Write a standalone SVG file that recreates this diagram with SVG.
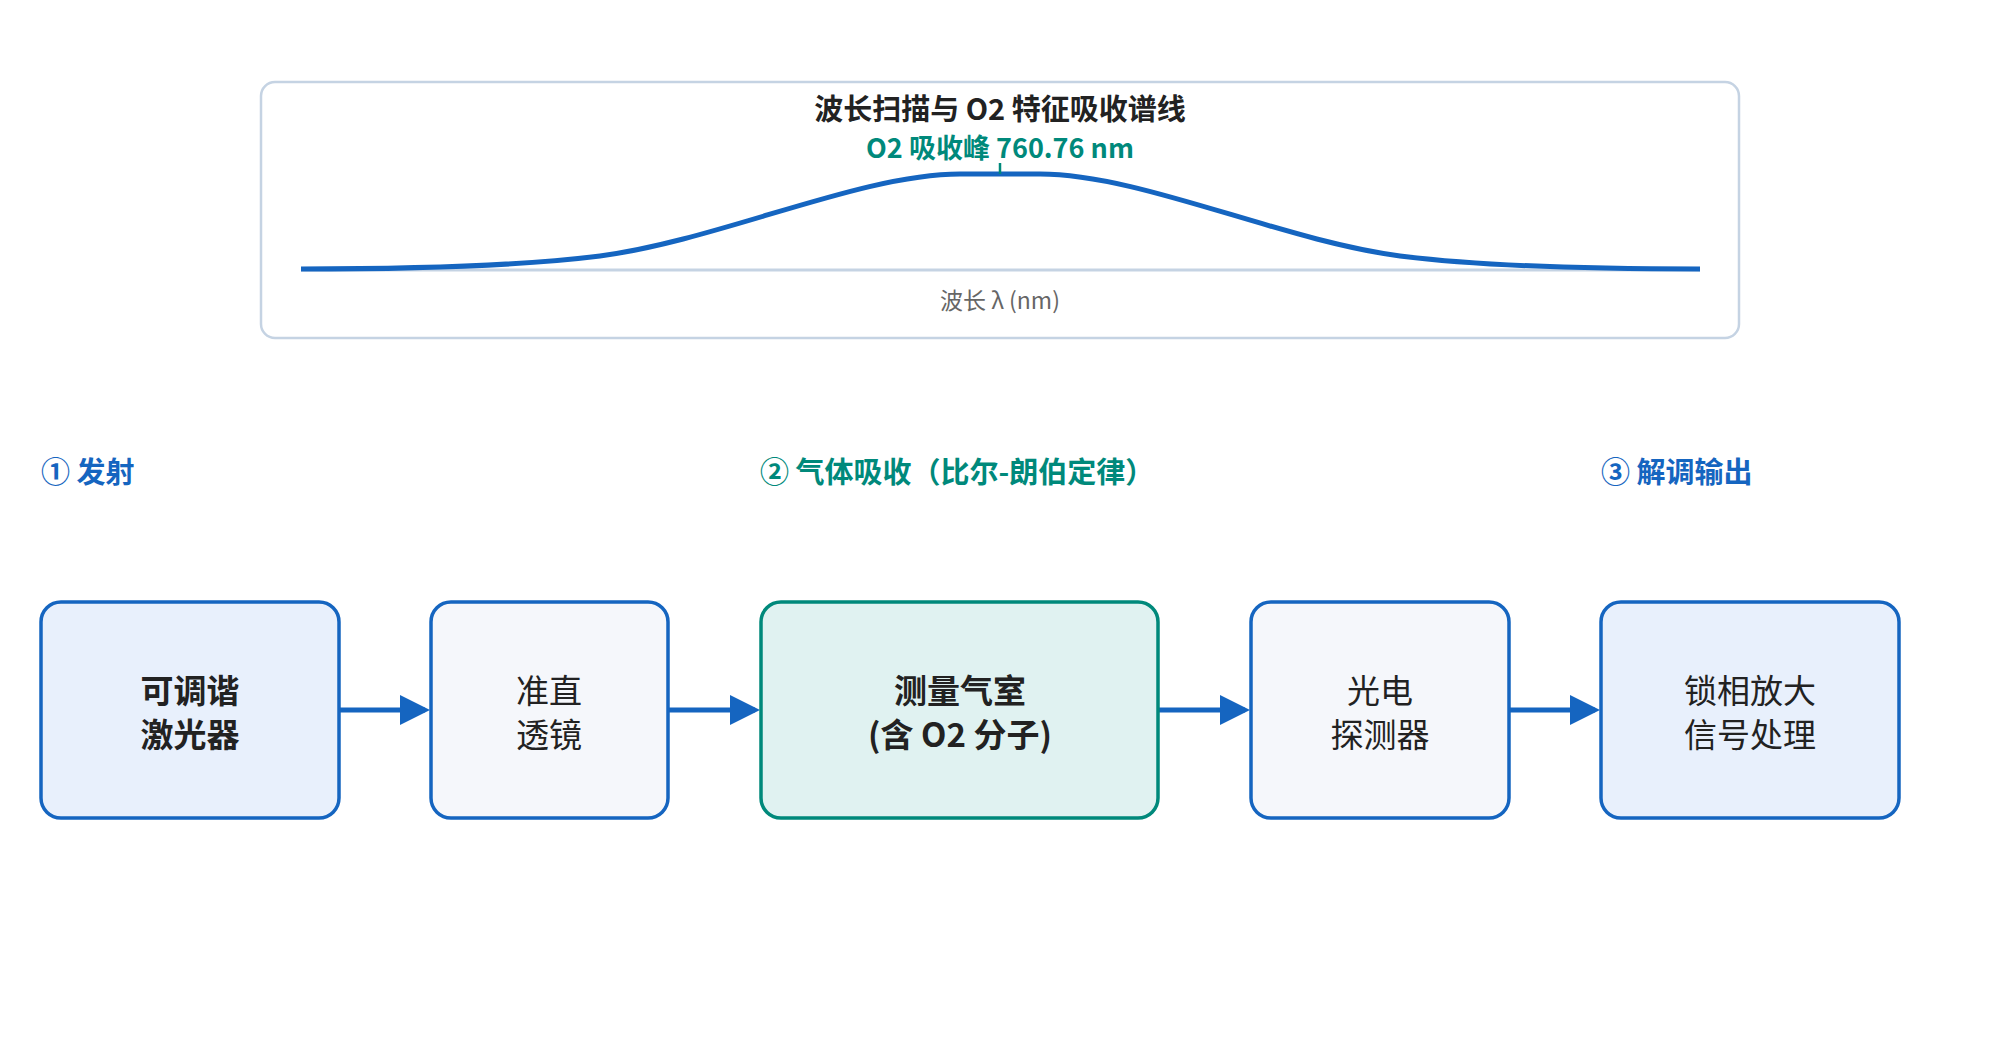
<svg xmlns="http://www.w3.org/2000/svg" width="2000" height="1040" viewBox="0 0 2000 1040">
<style>
text{font-family:"Noto Sans CJK SC","Noto Sans",sans-serif;text-anchor:middle}
.box{stroke:#1565c0;stroke-width:3.5}
.lbl{font-size:33px;fill:#222}
.sec{font-size:29px;font-weight:bold;text-anchor:start}
.conn{stroke:#1565c0;stroke-width:5;fill:none;marker-end:url(#ah)}
</style>
<defs><marker id="ah" markerWidth="6" markerHeight="6" refX="5" refY="3" orient="auto"><path d="M0,0 L6,3 L0,6 Z" fill="#1565c0"/></marker></defs>
<rect width="2000" height="1040" fill="#fff"/>
<g id="spectrum">
<rect x="261" y="82" width="1478" height="256" rx="14" fill="#fff" stroke="#c5d3e3" stroke-width="2.5"/>
<text x="1000" y="120" font-size="29" font-weight="bold" fill="#222">波长扫描与 O2 特征吸收谱线</text>
<text x="1000" y="158" font-size="27" font-weight="bold" fill="#00897b">O2 吸收峰 760.76 nm</text>
<line x1="301" y1="270" x2="1700" y2="270" stroke="#c5d3e3" stroke-width="3"/>
<path d="M301,269 C420,269 520,266 600,256 C720,240 860,174 960,174 L1040,174 C1140,174 1280,240 1400,256 C1480,266 1580,269 1700,269" fill="none" stroke="#1565c0" stroke-width="5"/>
<line x1="1000" y1="163" x2="1000" y2="174" stroke="#00897b" stroke-width="2.5"/>
<text x="1000" y="309" font-size="23" fill="#666">波长 λ (nm)</text>
</g>
<text class="sec" x="41" y="483" fill="#1565c0">① 发射</text>
<text class="sec" x="760" y="483" fill="#00897b">② 气体吸收（比尔-朗伯定律）</text>
<text class="sec" x="1601" y="483" fill="#1565c0">③ 解调输出</text>
<g id="connectors">
<line class="conn" x1="339" y1="710" x2="425" y2="710"/>
<line class="conn" x1="668" y1="710" x2="755" y2="710"/>
<line class="conn" x1="1158" y1="710" x2="1245" y2="710"/>
<line class="conn" x1="1509" y1="710" x2="1595" y2="710"/>
</g>
<g id="laser"><rect class="box" x="41" y="602" width="298" height="216" rx="20" fill="#e8f0fc"/>
<text class="lbl" x="190" y="703" font-weight="bold">可调谐</text><text class="lbl" x="190" y="747" font-weight="bold">激光器</text></g>
<g id="lens"><rect class="box" x="431" y="602" width="237" height="216" rx="20" fill="#f5f7fb"/>
<text class="lbl" x="549" y="703">准直</text><text class="lbl" x="549" y="747">透镜</text></g>
<g id="cell"><rect class="box" x="761" y="602" width="397" height="216" rx="20" fill="#e0f2f1" style="stroke:#00897b"/>
<text class="lbl" x="960" y="703" font-weight="bold">测量气室</text><text class="lbl" x="960" y="747" font-weight="bold">(含 O2 分子)</text></g>
<g id="detector"><rect class="box" x="1251" y="602" width="258" height="216" rx="20" fill="#f5f7fb"/>
<text class="lbl" x="1380" y="703">光电</text><text class="lbl" x="1380" y="747">探测器</text></g>
<g id="lockin"><rect class="box" x="1601" y="602" width="298" height="216" rx="20" fill="#e8f0fc"/>
<text class="lbl" x="1750" y="703">锁相放大</text><text class="lbl" x="1750" y="747">信号处理</text></g>
</svg>
